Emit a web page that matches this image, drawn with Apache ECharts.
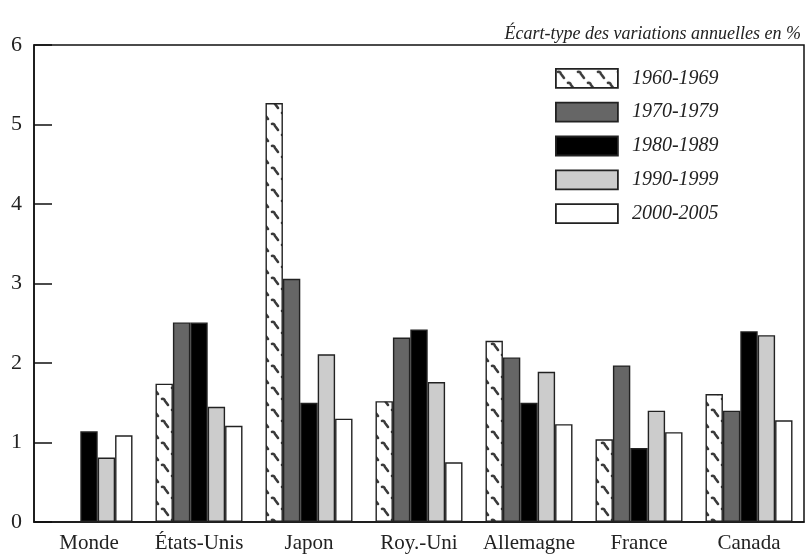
<!DOCTYPE html>
<html><head><meta charset="utf-8">
<script src="https://cdn.jsdelivr.net/npm/echarts@6/dist/echarts.min.js"></script>
<style>html,body{margin:0;padding:0;background:#fff}#c{width:807px;height:557px}</style>
</head><body><div id="c"></div>
<script>
const categories = ['Monde', 'États-Unis', 'Japon', 'Roy.-Uni', 'Allemagne', 'France', 'Canada'];
const s1960 = [null, 1.74, 5.27, 1.52, 2.28, 1.04, 1.61];
const s1970 = [null, 2.51, 3.06, 2.32, 2.07, 1.97, 1.40];
const s1980 = [1.14, 2.51, 1.50, 2.42, 1.50, 0.93, 2.40];
const s1990 = [0.81, 1.45, 2.11, 1.76, 1.89, 1.40, 2.35];
const s2000 = [1.09, 1.21, 1.30, 0.75, 1.23, 1.13, 1.28];
const seriesNames = ['1960-1969', '1970-1979', '1980-1989', '1990-1999', '2000-2005'];
const yTicks = [0, 1, 2, 3, 4, 5, 6];

function hatch() {
  const c = document.createElement('canvas');
  c.width = 20; c.height = 22;
  const g = c.getContext('2d');
  g.fillStyle = '#fff'; g.fillRect(0, 0, 20, 22);
  g.strokeStyle = '#3a3a3a'; g.lineWidth = 2.6; g.lineCap = 'round';
  const mark = (x, y) => {
    g.beginPath();
    g.moveTo(x - 1, y + 1);
    g.quadraticCurveTo(x + 1, y, x + 2, y + 3);
    g.lineTo(x + 5, y + 7);
    g.stroke();
  };
  mark(3, 2); mark(13, 13);
  return c;
}
const hatchFill = { image: hatch(), repeat: 'repeat' };
const fills = [hatchFill, '#666666', '#000000', '#cccccc', '#ffffff'];
const data = [s1960, s1970, s1980, s1990, s2000];
const serif = 'Liberation Serif, Times New Roman, serif';

const chart = echarts.init(document.getElementById('c'), null, { renderer: 'canvas' });
chart.setOption({
  animation: false,
  title: {
    text: 'Écart-type des variations annuelles en %',
    right: 1, top: 20,
    textStyle: { fontFamily: serif, fontStyle: 'italic', fontWeight: 'normal', fontSize: 18, color: '#222' }
  },
  legend: {
    orient: 'vertical', left: 550, top: 63,
    itemWidth: 62, itemHeight: 19, itemGap: 13,
    icon: 'rect',
    data: seriesNames,
    itemStyle: { borderWidth: 1.8, borderColor: '#222' },
    textStyle: { fontFamily: serif, fontStyle: 'italic', fontSize: 20, lineHeight: 19, color: '#222', padding: [0, 0, 0, 9] }
  },
  grid: { left: 34, right: 3, top: 45, bottom: 35, show: true, borderColor: '#111', borderWidth: 1.5, backgroundColor: 'transparent' },
  xAxis: {
    type: 'category', data: categories,
    axisLine: { show: true, lineStyle: { color: '#111', width: 1.5 } },
    axisTick: { show: false },
    axisLabel: { interval: 0, hideOverlap: false, fontFamily: serif, fontSize: 21, color: '#222', margin: 11 }
  },
  yAxis: {
    type: 'value', min: yTicks[0], max: yTicks[yTicks.length - 1], interval: 1,
    axisLine: { show: true, lineStyle: { color: '#111', width: 1.5 } },
    axisTick: { show: true, inside: true, length: 18, lineStyle: { color: '#111', width: 1.5 } },
    splitLine: { show: false },
    axisLabel: { fontFamily: serif, fontSize: 22, color: '#222', margin: 12 }
  },
  series: seriesNames.map((n, i) => ({
    name: n, type: 'bar', data: data[i],
    barWidth: 17.4, barGap: '0%',
    itemStyle: { color: fills[i], borderColor: '#222', borderWidth: 1.4 }
  }))
});
</script></body></html>
